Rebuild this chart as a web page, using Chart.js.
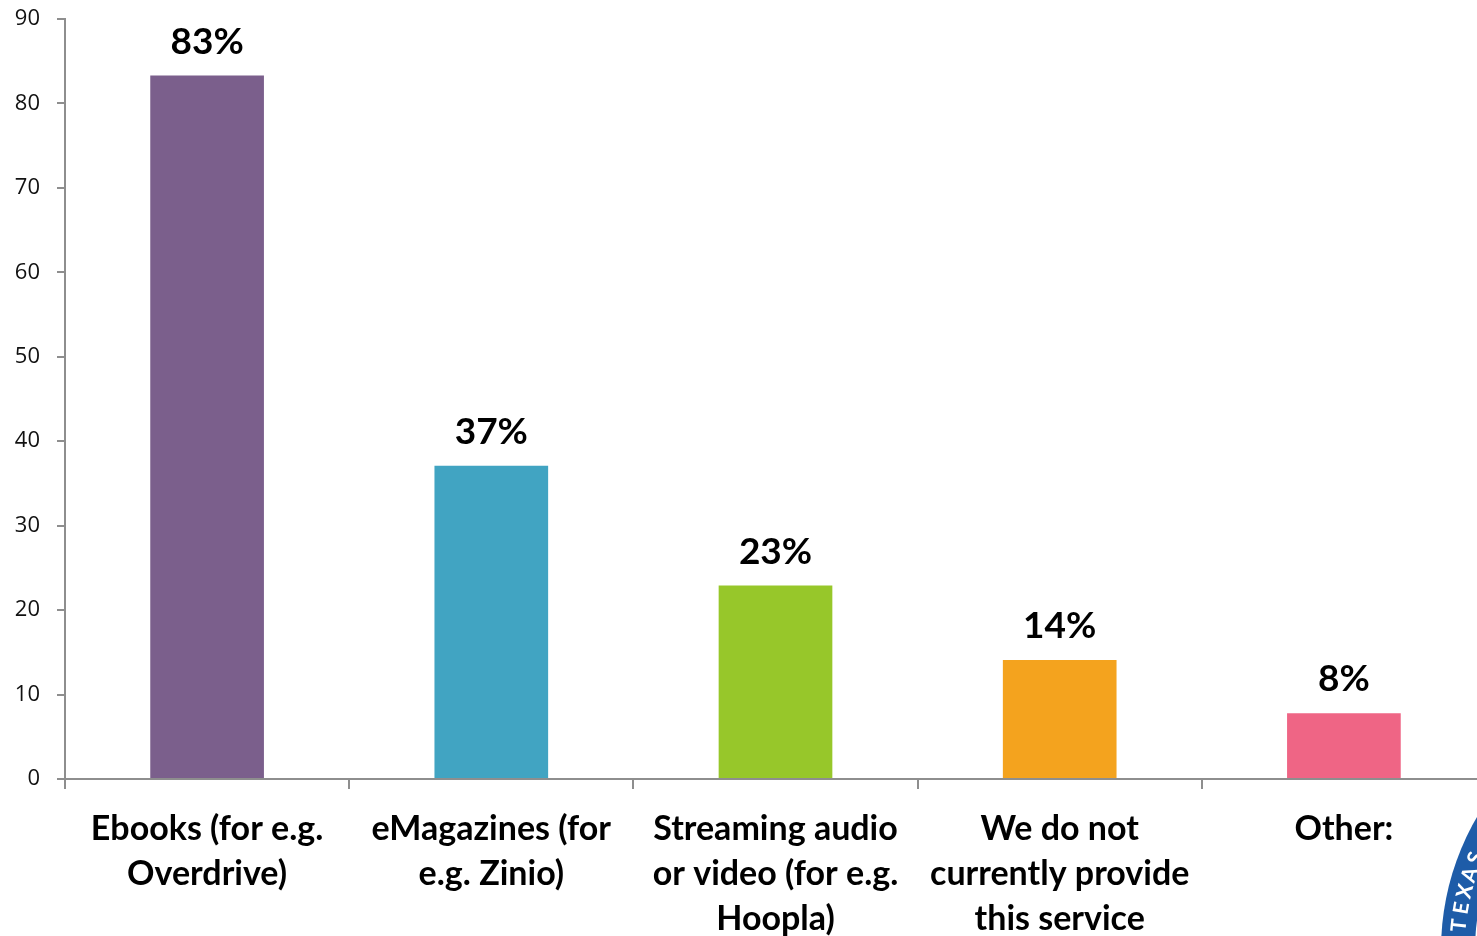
<!DOCTYPE html>
<html>
<head>
<meta charset="utf-8">
<script src="https://cdn.jsdelivr.net/npm/chart.js@4"></script>
<style>
  body { margin: 0; overflow: hidden; background: #fff; }
  #wrap { position: absolute; left: 0; top: 0; width: 1500px; height: 990px; }
</style>
</head>
<body>
<div id="wrap"><canvas id="chart" width="1500" height="990"></canvas></div>
<script>
const categories = [
  ["Ebooks (for e.g.", "Overdrive)"],
  ["eMagazines (for", "e.g. Zinio)"],
  ["Streaming audio", "or video (for e.g.", "Hoopla)"],
  ["We do not", "currently provide", "this service"],
  ["Other:"]
];
const values = [83.3, 37.1, 22.9, 14.1, 7.8];
const valueLabels = ["83%", "37%", "23%", "14%", "8%"];
const barColors = ["#7b5f8c", "#41a4c2", "#97c72a", "#f4a31e", "#ef6585"];

const axisGray = "#8e8e8e";
const font = "Lato, 'Open Sans', sans-serif";

// percent labels over each bar
const barLabels = {
  id: "barLabels",
  afterDatasetsDraw(chart) {
    const ctx = chart.ctx;
    const meta = chart.getDatasetMeta(0);
    ctx.save();
    ctx.font = "bold 37px " + font;
    ctx.fillStyle = "#000";
    ctx.textAlign = "center";
    ctx.textBaseline = "alphabetic";
    meta.data.forEach((bar, i) => {
      ctx.fillText(valueLabels[i], bar.x, bar.y - 22);
    });
    ctx.restore();
  }
};

// partial seal in the bottom right corner
const seal = {
  id: "seal",
  afterDraw(chart) {
    const ctx = chart.ctx;
    const cx = 1705, cy = 950, r = 264;
    ctx.save();
    ctx.beginPath();
    ctx.arc(cx, cy, r, 0, Math.PI * 2);
    ctx.fillStyle = "#1e5ca8";
    ctx.fill();
    ctx.beginPath();
    ctx.arc(cx, cy, r - 34, 0, Math.PI * 2);
    ctx.fillStyle = "#ffffff";
    ctx.fill();
    ctx.beginPath();
    ctx.arc(cx, cy, r - 38, 0, Math.PI * 2);
    ctx.strokeStyle = "#1e5ca8";
    ctx.lineWidth = 2;
    ctx.stroke();
    ctx.font = "bold 21px " + font;
    ctx.fillStyle = "#fff";
    ctx.textAlign = "center";
    ctx.textBaseline = "middle";
    const word = "TEXAS STATE";
    let a = Math.PI + 0.1;
    for (const ch of word) {
      const x = cx + Math.cos(a) * (r - 17);
      const y = cy + Math.sin(a) * (r - 17);
      ctx.save();
      ctx.translate(x, y);
      ctx.rotate(a + Math.PI / 2);
      ctx.fillText(ch, 0, 0);
      ctx.restore();
      a += 0.07;
    }
    ctx.restore();
  }
};

new Chart(document.getElementById("chart"), {
  type: "bar",
  data: {
    labels: categories,
    datasets: [{
      data: values,
      backgroundColor: barColors,
      barPercentage: 0.4,
      categoryPercentage: 1
    }]
  },
  options: {
    responsive: false,
    animation: false,
    layout: { padding: { top: 19, left: 0, right: 14, bottom: 0 } },
    plugins: { legend: { display: false }, tooltip: { enabled: false } },
    scales: {
      y: {
        min: 0,
        max: 90,
        ticks: { stepSize: 10, padding: 17, color: "#111", font: { family: "'Open Sans', sans-serif", size: 22 } },
        grid: { drawOnChartArea: false, drawTicks: true, tickLength: 8, color: axisGray, lineWidth: 2 },
        border: { display: true, color: axisGray, width: 2 },
        afterFit(scale) {
          scale.width = 65;
          scale.paddingTop = 0;
          scale.paddingBottom = 0;
        }
      },
      x: {
        ticks: {
          padding: 18,
          color: "#000",
          maxRotation: 0,
          autoSkip: false,
          font: { family: font, size: 34, weight: "bold", lineHeight: 1.32 }
        },
        grid: { offset: true, drawOnChartArea: false, drawTicks: true, tickLength: 10, color: axisGray, lineWidth: 2 },
        border: { display: true, color: axisGray, width: 2 },
        afterFit(scale) {
          scale.height = 990 - 779;
          scale.paddingLeft = 0;
          scale.paddingRight = 0;
        }
      }
    }
  },
  plugins: [barLabels, seal]
});
</script>
</body>
</html>
